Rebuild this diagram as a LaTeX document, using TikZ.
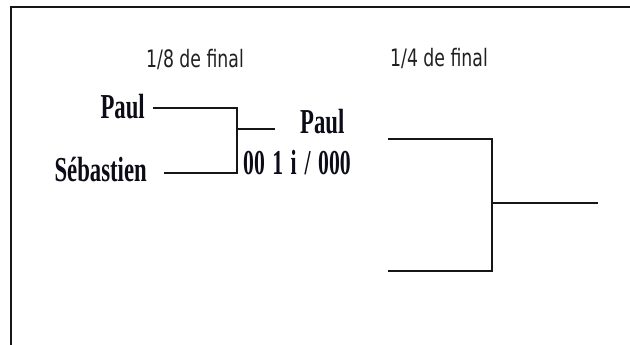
\documentclass[tikz,border=0pt]{standalone}
\usepackage{fontspec}
\setmainfont{Liberation Serif}
\newfontfamily\roundfont{DejaVu Sans}
\usepackage{xcolor}
\definecolor{bracket-black}{HTML}{161616}
\definecolor{name-black}{HTML}{0C0C18}
\definecolor{label-grey}{HTML}{202020}
\usepackage{tikz}

\newcommand{\squeeze}[2][0.65]{\scalebox{#1}[1]{#2}}

\tikzset{
    player/.style={font=\fontsize{35}{35}\selectfont\bfseries, text=name-black, inner sep=0pt},
    roundlabel/.style={font=\roundfont\fontsize{24}{24}\selectfont, text=label-grey, inner sep=0pt},
    bracket/.style={draw=bracket-black, line width=1.4pt}
}

\begin{document}
\begin{tikzpicture}[x=1pt, y=-1pt]

    \useasboundingbox (0, 0) rectangle (630, 345);

    % Frame
    \draw[bracket-black, line width=2pt] (10.5, 345) -- (10.5, 7) -- (630, 7);

    % Rounds
    \node[roundlabel, anchor=base] (eighth) at (195, 68) {\squeeze[0.72]{1/8 de final}};
    \node[roundlabel, anchor=base] (quarter) at (439, 67) {\squeeze[0.72]{1/4 de final}};

    % Players
    \node[player, anchor=base east] (paul) at (145, 118) {\squeeze{Paul}};
    \node[player, anchor=base east] (sebastien) at (147, 181) {\squeeze{Sébastien}};
    \node[player, anchor=base west] (winner) at (300, 133) {\squeeze{Paul}};
    \node[player, anchor=base west] (score) at (243, 175)
        {\squeeze[0.62]{00\hspace{12pt}1\hspace{12pt}i\hspace{13pt}/\hspace{12pt}000}};

    % First bracket
    \coordinate (paul-in) at (153, 108);
    \coordinate (paul-out) at (237, 108);
    \coordinate (sebastien-in) at (164, 173);
    \coordinate (sebastien-out) at (237, 173);
    \coordinate (match-mid) at (237, 129);
    \coordinate (match-end) at (275, 129);

    \draw[bracket, line width=1.3pt] (paul-in) -- (paul-out) -- (sebastien-out) -- (sebastien-in);
    \draw[bracket, line width=1.3pt] (match-mid) -- (match-end);

    % Second bracket
    \coordinate (top-in) at (388, 139);
    \coordinate (top-out) at (492, 139);
    \coordinate (bottom-in) at (388, 271);
    \coordinate (bottom-out) at (492, 271);
    \coordinate (final-mid) at (492, 203);
    \coordinate (final-end) at (598, 203);

    \draw[bracket] (top-in) -- (top-out) -- (bottom-out) -- (bottom-in);
    \draw[bracket] (final-mid) -- (final-end);

\end{tikzpicture}
\end{document}
